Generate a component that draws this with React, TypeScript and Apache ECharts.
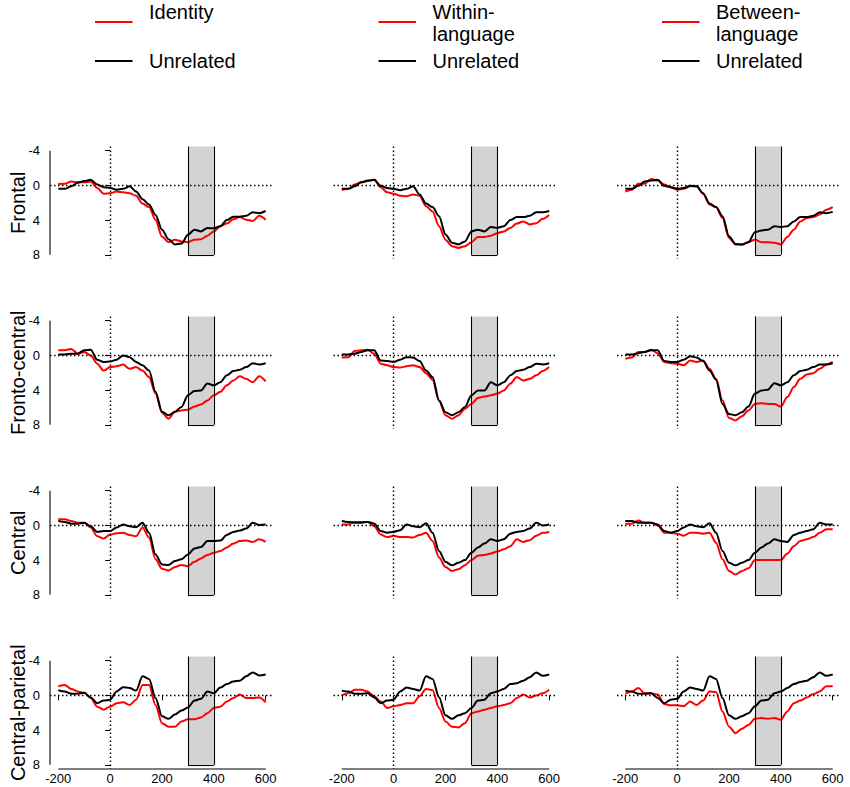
import React, { useEffect, useRef } from "react";
import * as echarts from "echarts";

// ---------- data ----------
const TIMES = [-200, -175, -150, -125, -100, -75, -50, -25, 0, 25, 50, 75, 100, 125, 150, 175, 200, 225, 250, 275, 300, 325, 350, 375, 400, 425, 450, 475, 500, 525, 550, 575, 600];
const X_TICKS = [-200, 0, 200, 400, 600];
const Y_TICKS = [-4, 0, 4, 8];
const WINDOW_MS = [300, 400];
const ROW_LABELS = ["Frontal", "Fronto-central", "Central", "Central-parietal"];
const LEGEND_FIRST = [["Identity"], ["Within-", "language"], ["Between-", "language"]];
const LEGEND_SECOND = "Unrelated";

// Frontal
const frontalIdentity = [-0.15, -0.2, -0.45, -0.35, -0.35, -0.45, 0.3, 0.95, 0.9, 0.7, 0.8, 0.9, 1.2, 2.1, 2.5, 3.95, 5.9, 6.55, 6.25, 6.45, 6.55, 6.25, 6.2, 5.8, 5.3, 4.7, 4.4, 3.9, 3.65, 3.95, 4.1, 3.5, 3.95];
const frontalIdentityUnrel = [0.4, 0.4, 0.1, -0.3, -0.5, -0.65, -0.1, 0.2, 0.3, 0.5, 0.4, 0.1, 0.7, 1.6, 2.2, 3.4, 5.1, 6.2, 6.8, 6.7, 5.7, 5.1, 5.3, 4.9, 4.95, 4.7, 4.0, 3.6, 3.6, 3.5, 3.1, 3.2, 2.95];
const frontalWithin = [0.55, 0.4, -0.1, -0.35, -0.5, -0.65, 0.2, 0.8, 0.95, 1.2, 1.25, 1.05, 1.2, 2.4, 3.0, 4.7, 6.25, 7.0, 7.2, 7.0, 6.55, 5.95, 5.95, 5.8, 5.5, 5.3, 4.9, 4.4, 4.15, 4.5, 4.35, 3.85, 3.4];
const frontalWithinUnrel = [0.4, 0.4, 0.1, -0.35, -0.55, -0.65, 0.05, 0.3, 0.4, 0.55, 0.4, 0.1, 1.05, 2.1, 2.5, 3.55, 5.65, 6.6, 6.8, 6.45, 5.3, 5.1, 5.3, 4.8, 4.9, 4.7, 4.0, 3.65, 3.65, 3.5, 3.1, 3.1, 2.95];
const frontalBetween = [0.7, 0.5, -0.2, -0.2, -0.75, -0.55, -0.1, 0.2, 0.5, 0.4, 0.1, 0.1, 0.95, 2.2, 2.5, 3.75, 6.05, 6.8, 6.8, 6.55, 6.25, 6.55, 6.55, 6.6, 6.8, 5.95, 5.1, 4.15, 3.75, 3.65, 3.35, 2.8, 2.5];
const frontalBetweenUnrel = [0.4, 0.4, 0.05, -0.45, -0.55, -0.65, 0.05, 0.2, 0.4, 0.3, 0.05, 0.1, 0.9, 2.1, 2.5, 3.55, 5.85, 6.75, 6.8, 6.55, 5.4, 5.2, 5.1, 4.7, 4.8, 4.7, 4.15, 3.65, 3.65, 3.5, 3.1, 3.2, 3.05];

// Fronto-central
const frontoCentralIdentity = [-0.6, -0.6, -0.75, -0.2, -0.4, 0, 0.95, 1.75, 1.35, 1.25, 1.05, 1.55, 1.35, 1.75, 2.5, 4.4, 6.6, 7.3, 6.5, 6.35, 6.25, 5.9, 5.65, 5.2, 4.6, 4.2, 3.45, 2.9, 2.4, 2.7, 3.1, 2.4, 3.0];
const frontoCentralIdentityUnrel = [-0.1, -0.1, -0.2, -0.2, -0.6, -0.65, 0.5, 0.75, 0.7, 0.5, 0, 0.2, 0.75, 1.15, 1.75, 4.2, 6.5, 6.9, 6.5, 5.95, 4.6, 4.1, 4.05, 3.25, 3.45, 3.1, 2.3, 1.8, 1.65, 1.35, 0.9, 1.05, 0.9];
const frontoCentralWithin = [0.25, 0.2, -0.5, -0.6, -0.65, -0.2, 0.95, 1.15, 1.35, 1.4, 1.25, 1.15, 1.35, 2.05, 2.8, 5.2, 6.9, 7.3, 6.9, 6.15, 5.6, 4.9, 4.75, 4.6, 4.4, 4.05, 3.25, 2.5, 2.9, 2.7, 2.3, 1.8, 1.35];
const frontoCentralWithinUnrel = [-0.1, -0.1, -0.2, -0.4, -0.6, -0.6, 0.6, 0.65, 0.75, 0.5, 0.2, 0.25, 0.65, 1.75, 2.5, 5.2, 6.55, 6.9, 6.55, 5.95, 4.6, 4.05, 4.05, 3.1, 3.45, 3.1, 2.3, 1.8, 1.65, 1.35, 0.95, 1.05, 0.9];
const frontoCentralBetween = [0.4, 0.25, -0.4, -0.4, -0.65, -0.25, 0.75, 0.9, 0.95, 1.15, 0.6, 0.75, 0.6, 1.55, 2.7, 5.2, 7.2, 7.5, 7.0, 6.35, 5.6, 5.5, 5.6, 5.6, 5.9, 4.8, 3.65, 2.7, 2.2, 2.05, 1.55, 1.05, 0.75];
const frontoCentralBetweenUnrel = [-0.1, -0.1, -0.25, -0.4, -0.6, -0.6, 0.65, 0.75, 0.75, 0.5, 0.1, 0.25, 0.65, 1.75, 2.8, 5.6, 6.75, 6.9, 6.55, 5.9, 4.4, 4.05, 3.95, 3.2, 3.45, 3.1, 2.3, 1.8, 1.65, 1.35, 1.05, 1.05, 0.9];

// Central
const centralIdentity = [-0.7, -0.7, -0.5, -0.3, -0.3, 0.25, 1.25, 1.5, 1.05, 0.9, 0.85, 1.1, 1.25, 0.25, 1.4, 3.9, 5.0, 5.2, 4.8, 4.55, 4.7, 4.2, 3.8, 3.4, 3.15, 2.95, 2.55, 2.1, 1.8, 1.75, 1.9, 1.6, 1.9];
const centralIdentityUnrel = [-0.5, -0.4, -0.2, -0.2, -0.3, 0.1, 0.75, 0.65, 0.65, 0.25, -0.1, 0.1, 0.2, -0.3, 0.85, 3.35, 4.5, 4.55, 4.1, 3.9, 3.35, 2.65, 2.5, 1.8, 1.8, 1.75, 1.1, 0.75, 0.6, 0.35, -0.3, -0.05, -0.1];
const centralWithin = [-0.1, -0.1, -0.4, -0.4, -0.4, 0.1, 1.05, 1.35, 1.2, 1.35, 1.35, 1.4, 1.1, 0.85, 1.8, 3.7, 4.8, 5.25, 5.05, 4.6, 4.0, 3.5, 3.4, 3.25, 3.0, 2.75, 2.4, 1.6, 1.9, 1.7, 1.2, 0.85, 0.75];
const centralWithinUnrel = [-0.5, -0.4, -0.3, -0.3, -0.4, -0.2, 0.65, 0.85, 0.75, 0.55, -0.1, 0.1, 0.2, -0.25, 0.85, 2.95, 4.2, 4.6, 4.3, 4.0, 3.15, 2.55, 2.1, 1.6, 1.8, 1.6, 0.95, 0.75, 0.65, 0.35, -0.3, 0, -0.1];
const centralBetween = [-0.2, -0.2, -0.55, -0.3, -0.3, 0, 0.85, 0.85, 0.95, 1.2, 0.85, 0.85, 0.95, 0.85, 2.0, 3.9, 5.25, 5.65, 5.25, 4.95, 4.0, 4.0, 4.0, 4.0, 4.0, 3.25, 2.4, 1.8, 1.6, 1.35, 0.85, 0.45, 0.45];
const centralBetweenUnrel = [-0.5, -0.5, -0.3, -0.3, -0.3, -0.1, 0.65, 0.85, 0.65, 0.25, -0.1, 0.1, 0.2, -0.25, 0.85, 2.95, 4.3, 4.6, 4.3, 4.0, 3.15, 2.55, 2.1, 1.6, 1.8, 1.9, 1.1, 0.85, 0.65, 0.45, -0.3, -0.1, -0.1];

// Central-parietal
const centroParietalIdentity = [-1.05, -1.2, -0.75, -0.45, -0.3, 0.3, 1.3, 1.65, 1.3, 0.9, 0.8, 1.1, 0.5, -1.2, -1.2, 1.1, 3.2, 3.6, 3.6, 3.0, 2.75, 2.75, 2.55, 2.05, 1.45, 1.3, 0.7, 0.3, -0.1, 0.3, 0.3, 0.25, 0.8];
const centroParietalIdentityUnrel = [-0.6, -0.45, -0.2, -0.2, -0.3, 0.25, 0.9, 0.6, 0.5, -0.45, -0.95, -0.85, -0.55, -2.2, -1.9, 0.3, 2.4, 2.7, 2.2, 1.75, 1.4, 0.6, 0.4, -0.45, -0.25, -0.9, -1.3, -1.6, -1.7, -2.2, -2.65, -2.3, -2.4];
const centroParietalWithin = [0, -0.25, -0.65, -0.65, -0.45, 0.1, 0.7, 1.45, 1.25, 1.1, 0.9, 0.9, 0.1, -0.75, -0.6, 1.45, 3.0, 3.6, 3.7, 3.2, 2.05, 1.85, 1.65, 1.45, 1.25, 1.1, 0.9, 0.3, -0.1, 0.25, 0, -0.25, -0.65];
const centroParietalWithinUnrel = [-0.55, -0.45, -0.2, -0.2, -0.25, 0.25, 0.9, 0.6, 0.5, -0.45, -0.9, -0.75, -0.55, -2.2, -1.9, 0.2, 2.3, 2.7, 2.3, 2.05, 1.45, 0.6, 0.5, -0.25, -0.45, -0.75, -1.3, -1.4, -1.7, -2.1, -2.65, -2.25, -2.4];
const centroParietalBetween = [-0.2, -0.45, -0.85, -0.25, -0.25, -0.1, 1.0, 1.15, 1.15, 1.25, 0.7, 1.1, 0.6, -0.45, -0.4, 1.85, 3.6, 4.35, 3.85, 3.4, 2.7, 2.6, 2.7, 2.6, 2.8, 1.85, 0.9, 0.6, 0.25, -0.15, -0.45, -1.05, -1.05];
const centroParietalBetweenUnrel = [-0.55, -0.45, -0.2, -0.2, -0.25, 0.3, 0.9, 0.5, 0.4, -0.45, -0.9, -0.75, -0.55, -2.2, -1.9, 0.3, 2.3, 2.7, 2.4, 2.05, 1.25, 0.6, 0.5, -0.25, -0.45, -0.85, -1.3, -1.55, -1.7, -2.1, -2.65, -2.25, -2.4];

const PANELS = [
  [[frontalIdentity, frontalIdentityUnrel], [frontalWithin, frontalWithinUnrel], [frontalBetween, frontalBetweenUnrel]],
  [[frontoCentralIdentity, frontoCentralIdentityUnrel], [frontoCentralWithin, frontoCentralWithinUnrel], [frontoCentralBetween, frontoCentralBetweenUnrel]],
  [[centralIdentity, centralIdentityUnrel], [centralWithin, centralWithinUnrel], [centralBetween, centralBetweenUnrel]],
  [[centroParietalIdentity, centroParietalIdentityUnrel], [centroParietalWithin, centroParietalWithinUnrel], [centroParietalBetween, centroParietalBetweenUnrel]],
];

// ---------- layout ----------
const FONT = "Arial, 'Liberation Sans', sans-serif";
const X_MIN = -232;
const X_MAX = 632;
const Y_MIN = -4.48;
const Y_MAX = 8.48;
const COL_LEFT = [50, 333.5, 617];
const ROW_TOP = [146.5, 316.5, 486.5, 656.5];
const PANEL_W = 224;
const PANEL_H = 112.5;
const LEGEND_COL_OFFSET = [0, 283.5, 567];
const RED = "#ff0000";
const BLACK = "#000000";

function buildOption() {
  const grid: any[] = [];
  const xAxis: any[] = [];
  const yAxis: any[] = [];
  const series: any[] = [];
  const graphic: any[] = [];

  PANELS.forEach((row, r) => {
    row.forEach((pair, c) => {
      const idx = r * 3 + c;
      const bottom = r === PANELS.length - 1;
      grid.push({ left: COL_LEFT[c], top: ROW_TOP[r], width: PANEL_W, height: PANEL_H, containLabel: false });
      xAxis.push({
        gridIndex: idx,
        type: "value",
        min: X_MIN,
        max: X_MAX,
        axisLine: { show: false },
        splitLine: { show: false },
        axisTick: bottom
          ? { show: true, customValues: X_TICKS, length: 5, lineStyle: { color: BLACK, width: 1 } }
          : { show: false },
        axisLabel: bottom
          ? { show: true, customValues: X_TICKS, margin: 3, fontSize: 13, color: BLACK, fontFamily: FONT }
          : { show: false },
      });
      yAxis.push({
        gridIndex: idx,
        type: "value",
        inverse: true,
        min: Y_MIN,
        max: Y_MAX,
        axisLine: { show: false },
        splitLine: { show: false },
        axisTick: c === 0 ? { show: true, customValues: Y_TICKS, length: 5, lineStyle: { color: BLACK, width: 1 } } : { show: false },
        axisLabel: c === 0 ? { show: true, customValues: Y_TICKS, margin: 10, fontSize: 13, color: BLACK, fontFamily: FONT } : { show: false },
      });

      const dotted = { type: [1.5, 2.5], color: BLACK, width: 1.4 };
      const solid = { type: "solid", color: BLACK, width: 1.1 };
      // decoration series: y axis line, window, reference lines
      series.push({
        type: "line",
        xAxisIndex: idx,
        yAxisIndex: idx,
        data: c === 0 ? [[X_MIN, Y_TICKS[0]], [X_MIN, Y_TICKS[Y_TICKS.length - 1]]] : [],
        symbol: "none",
        clip: false,
        silent: true,
        z: 1,
        lineStyle: { color: BLACK, width: 1.1 },
        markArea: {
          silent: true,
          itemStyle: { color: "#d3d3d3", borderWidth: 0 },
          data: [[{ coord: [WINDOW_MS[0], Y_MIN] }, { coord: [WINDOW_MS[1], Y_TICKS[Y_TICKS.length - 1]] }]],
        },
        markLine: {
          silent: true,
          symbol: ["none", "none"],
          label: { show: false },
          animation: false,
          data: [
            { xAxis: 0, lineStyle: dotted },
            { yAxis: 0, lineStyle: dotted },
            [{ coord: [WINDOW_MS[0], Y_MIN], lineStyle: solid }, { coord: [WINDOW_MS[0], Y_TICKS[3]] }],
            [{ coord: [WINDOW_MS[1], Y_MIN], lineStyle: solid }, { coord: [WINDOW_MS[1], Y_TICKS[3]] }],
            [{ coord: [WINDOW_MS[0], Y_TICKS[3]], lineStyle: solid }, { coord: [WINDOW_MS[1], Y_TICKS[3]] }],
          ],
        },
      });
      if (bottom) {
        series.push({
          type: "line",
          xAxisIndex: idx,
          yAxisIndex: idx,
          data: [[X_TICKS[0], Y_MAX], [X_TICKS[X_TICKS.length - 1], Y_MAX]],
          symbol: "none",
          clip: false,
          silent: true,
          z: 1,
          lineStyle: { color: BLACK, width: 1.1 },
        });
      }
      const [related, unrelated] = pair;
      series.push({
        type: "line",
        xAxisIndex: idx,
        yAxisIndex: idx,
        data: TIMES.map((t, i) => [t, related[i]]),
        symbol: "none",
        smooth: 0.3,
        smoothMonotone: "x",
        silent: true,
        z: 3,
        lineStyle: { color: RED, width: 2 },
      });
      series.push({
        type: "line",
        xAxisIndex: idx,
        yAxisIndex: idx,
        data: TIMES.map((t, i) => [t, unrelated[i]]),
        symbol: "none",
        smooth: 0.3,
        smoothMonotone: "x",
        silent: true,
        z: 4,
        lineStyle: { color: BLACK, width: 2 },
      });
    });
    // row label
    graphic.push({
      type: "text",
      x: 18,
      y: ROW_TOP[r] + PANEL_H / 2,
      rotation: Math.PI / 2,
      style: { text: ROW_LABELS[r], fontSize: 20, fontFamily: FONT, fill: BLACK, align: "center", verticalAlign: "middle" },
    });
  });

  // legends
  LEGEND_FIRST.forEach((lines, c) => {
    const off = LEGEND_COL_OFFSET[c];
    graphic.push({ type: "line", shape: { x1: 95 + off, y1: 22, x2: 132.5 + off, y2: 22 }, style: { stroke: RED, lineWidth: 2 } });
    graphic.push({ type: "line", shape: { x1: 95 + off, y1: 61, x2: 132.5 + off, y2: 61 }, style: { stroke: BLACK, lineWidth: 2 } });
    lines.forEach((t, k) => {
      graphic.push({
        type: "text",
        x: 149 + off,
        y: 11.5 + k * 22,
        style: { text: t, fontSize: 20, fontFamily: FONT, fill: BLACK, align: "left", verticalAlign: "middle" },
      });
    });
    graphic.push({
      type: "text",
      x: 149 + off,
      y: 61.3,
      style: { text: LEGEND_SECOND, fontSize: 20, fontFamily: FONT, fill: BLACK, align: "left", verticalAlign: "middle" },
    });
  });

  return {
    animation: false,
    backgroundColor: "#ffffff",
    textStyle: { fontFamily: FONT },
    grid,
    xAxis,
    yAxis,
    series,
    graphic,
  };
}

export default function App() {
  const ref = useRef<HTMLDivElement>(null);
  useEffect(() => {
    document.body.style.margin = "0";
    const chart = echarts.init(ref.current as HTMLDivElement, null, { renderer: "svg" });
    chart.setOption(buildOption() as any);
    return () => chart.dispose();
  }, []);
  return <div ref={ref} style={{ width: 850, height: 787 }} />;
}
